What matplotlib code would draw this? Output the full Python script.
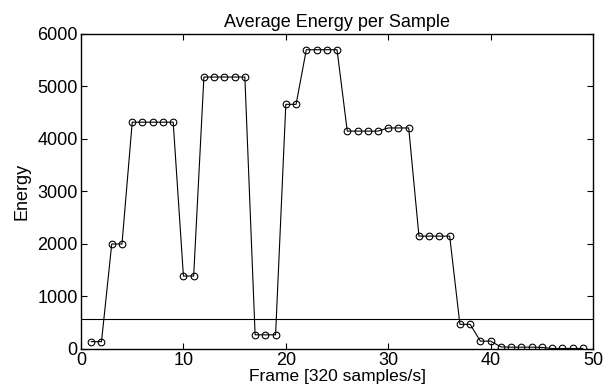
import numpy as np
import matplotlib
matplotlib.use('Agg')
import matplotlib.pyplot as plt

plt.rcParams['font.family'] = ['Liberation Sans', 'DejaVu Sans']

frames = np.arange(1, 50)
energy = [140, 140, 2000, 2000, 4320, 4320, 4320, 4320, 4320, 1390,
          1390, 5180, 5180, 5180, 5180, 5180, 270, 270, 270, 4660,
          4660, 5700, 5700, 5700, 5700, 4150, 4150, 4150, 4150, 4210,
          4210, 4210, 2150, 2150, 2150, 2150, 470, 470, 150, 150,
          40, 35, 35, 35, 30, 10, 10, 10, 10]
threshold = 570

fig = plt.figure(figsize=(6.11, 3.87), dpi=100)
ax = fig.add_axes([0.1326, 0.0982, 0.838, 0.814])

ax.plot(frames, energy, color='black', linewidth=0.8, marker='o',
        markersize=4.8, markerfacecolor='none', markeredgewidth=0.8)
ax.axhline(threshold, color='black', linewidth=0.8)

ax.set_xlim(0, 50)
ax.set_ylim(0, 6000)
ax.set_xticks([0, 10, 20, 30, 40, 50])
ax.set_yticks([0, 1000, 2000, 3000, 4000, 5000, 6000])
ax.tick_params(direction='in', top=True, right=True, labelsize=13, length=4, pad=2.5)
for s in ax.spines.values():
    s.set_linewidth(1.0)

ax.set_title('Average Energy per Sample', fontsize=13, pad=5)
ax.set_xlabel('Frame [320 samples/s]', fontsize=12.5, labelpad=0)
ax.set_ylabel('Energy', fontsize=13, labelpad=5)

fig.savefig('out.png', dpi=100)
